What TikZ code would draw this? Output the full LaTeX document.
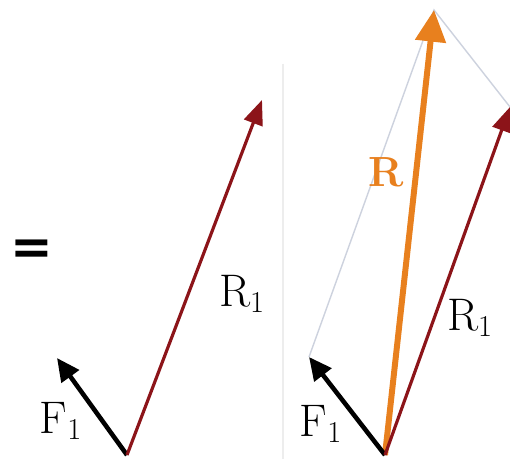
\documentclass[tikz,border=0pt]{standalone}
\usepackage{amssymb,mathtools}
\usepackage{bm}
\usepackage{fontspec}
\newfontfamily\eqfont{DejaVu Sans}
\usetikzlibrary{arrows.meta,calc}

\definecolor{darkred}{RGB}{140,20,25}
\definecolor{resorange}{RGB}{232,128,30}
\definecolor{guide}{RGB}{205,210,222}

\begin{document}
\begin{tikzpicture}[
  force/.style={line width=2.6pt,-{Triangle[length=13pt,width=12pt]}},
  rone/.style={darkred,line width=1.8pt,-{Triangle[length=14pt,width=11pt]}},
  result/.style={resorange,line width=3.4pt,-{Triangle[length=18pt,width=17pt]}},
  lbl/.style={inner sep=0pt,font=\fontsize{26}{30}\selectfont}]
\useasboundingbox (0,0) rectangle (10.2,9.18);
\fill[white] (0,0) rectangle (10.2,9.18);
% left: the two vectors tail to tail
\coordinate (o1) at (2.54,0.08);
\coordinate (f1) at (1.14,2.02);
\coordinate (r1) at (5.24,7.18);
\node[lbl,font=\fontsize{29}{32}\selectfont\eqfont\bfseries] (eq) at (0.64,4.14) {=};
\draw[force] (o1)--(f1);
\draw[rone] (o1)--(r1);
\node[lbl] (lf) at (1.22,0.76) {F$_1$};
\node[lbl] (lr) at (4.84,3.30) {R$_1$};
% divider
\coordinate (d1) at (5.66,7.9);
\coordinate (d2) at (5.66,0);
\draw[black!7,line width=0.8pt] (d1)--(d2);
% right: parallelogram and the resultant
\coordinate (o2) at (7.70,0.08);
\coordinate (f2) at (6.18,2.04);
\coordinate (r2) at (10.20,7.04);
\coordinate (rr) at (8.68,8.98);
\draw[guide,line width=0.8pt] (f2)--(rr)--(r2);
\draw[result] (o2)--(rr);
\draw[force] (o2)--(f2);
\draw[rone] (o2)--(r2);
\node[lbl] (rf) at (6.42,0.70) {F$_1$};
\node[lbl] (rrl) at (9.40,2.82) {R$_1$};
\node[lbl,resorange,font=\fontsize{24}{28}\selectfont\bfseries] (rl) at (7.72,5.74) {R};
\end{tikzpicture}
\end{document}
